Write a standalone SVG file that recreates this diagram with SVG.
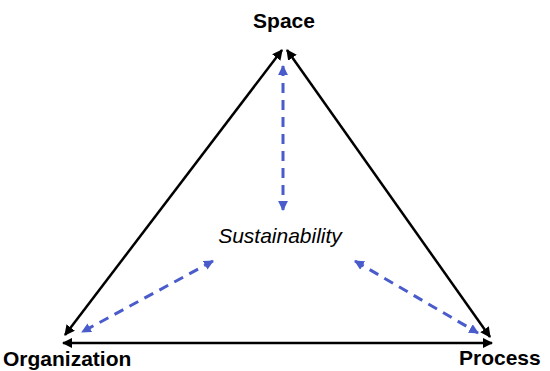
<svg xmlns="http://www.w3.org/2000/svg" width="550" height="371" viewBox="0 0 550 371">
<defs>
<style>
.lbl{font-family:"Liberation Sans",Arial,sans-serif;font-weight:bold;font-size:21px;fill:#000}
.ctr{font-family:"Liberation Sans",Arial,sans-serif;font-style:italic;font-size:21px;fill:#000}
.side{stroke:#000;stroke-width:2.5;fill:none}
.dash{stroke:#4a5ccc;stroke-width:3;stroke-dasharray:10 7;fill:none}
</style>
<marker id="ab" viewBox="0 0 10 10" refX="9" refY="5" markerWidth="4.2" markerHeight="4.2" orient="auto-start-reverse" markerUnits="strokeWidth">
<path d="M0,0 L10,5 L0,10 z" fill="#000"/>
</marker>
<marker id="ac" viewBox="0 0 10 10" refX="9" refY="5" markerWidth="3.3" markerHeight="3.3" orient="auto-start-reverse" markerUnits="strokeWidth">
<path d="M0,0 L10,5 L0,10 z" fill="#4a5ccc"/>
</marker>
</defs>
<rect width="550" height="371" fill="#fff"/>
<g id="connectors">
<line class="side" x1="282" y1="50" x2="65" y2="335" marker-start="url(#ab)" marker-end="url(#ab)"/>
<line class="side" x1="287" y1="50" x2="490" y2="337" marker-start="url(#ab)" marker-end="url(#ab)"/>
<line class="side" x1="63" y1="343" x2="492" y2="343" marker-start="url(#ab)" marker-end="url(#ab)"/>
<line class="dash" x1="283" y1="66" x2="283" y2="210" marker-start="url(#ac)" marker-end="url(#ac)"/>
<line class="dash" x1="213" y1="261" x2="82" y2="332" marker-start="url(#ac)" marker-end="url(#ac)"/>
<line class="dash" x1="355" y1="261" x2="478" y2="333" marker-start="url(#ac)" marker-end="url(#ac)"/>
</g>
<g id="space"><text class="lbl" x="284" y="28" text-anchor="middle">Space</text></g>
<g id="organization"><text class="lbl" x="3" y="366">Organization</text></g>
<g id="process"><text class="lbl" x="459" y="365">Process</text></g>
<g id="sustainability"><text class="ctr" x="280" y="243" text-anchor="middle">Sustainability</text></g>
</svg>
